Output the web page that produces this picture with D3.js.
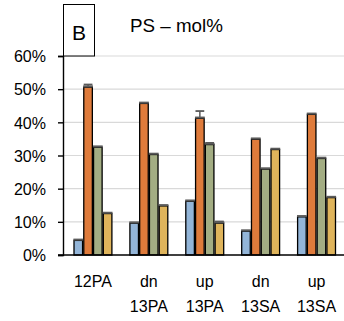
<!DOCTYPE html>
<html>
<head>
  <style>
    body { margin: 0; padding: 0; background: #fff; }
    text { font-family: "Liberation Sans", Arial, sans-serif; fill: #000; }
  </style>
</head>
<body>
  <div id="chart"></div>
  <script src="https://d3js.org/d3.v7.min.js"></script>
  <script>
    // categories (two-line labels)
    const categories = ['12PA', 'dn 13PA', 'up 13PA', 'dn 13SA', 'up 13SA'];
    const labelLines = [['12PA'], ['dn', '13PA'], ['up', '13PA'], ['dn', '13SA'], ['up', '13SA']];
    const series = ['s1', 's2', 's3', 's4'];
    const colors = ['#93b5d8', '#df7b3b', '#a3ad83', '#dfb45b'];

    // values per series, in order of categories (fractions)
    const s1 = [0.044, 0.096, 0.162, 0.072, 0.115];
    const s2 = [0.506, 0.457, 0.412, 0.349, 0.424];
    const s3 = [0.325, 0.303, 0.333, 0.259, 0.291];
    const s4 = [0.125, 0.148, 0.096, 0.318, 0.173];
    const e1 = [0.002, 0.002, 0.002, 0.002, 0];
    const e2 = [0.008, 0.002, 0.022, 0.002, 0];
    const e3 = [0.002, 0.002, 0.005, 0.002, 0];
    const e4 = [0.002, 0.002, 0.005, 0.002, 0];
    const values = [s1, s2, s3, s4];
    const errors = [e1, e2, e3, e4];
    const yTicks = [0, 0.1, 0.2, 0.3, 0.4, 0.5, 0.6];

    const W = 344, H = 321;
    const svg = d3.select('#chart').append('svg')
      .attr('width', W).attr('height', H);

    const y = d3.scaleLinear().domain([0, 0.6]).range([255, 56]);
    const x0 = d3.scaleBand().domain(categories).range([65, 344.5]);
    const bw = x0.bandwidth();
    const x1 = d3.scaleBand().domain(series).range([8.4, bw - 8.4]);

    // gridlines
    svg.append('g').selectAll('line')
      .data(yTicks.slice(1))
      .enter().append('line')
      .attr('x1', 63).attr('x2', W)
      .attr('y1', d => y(d)).attr('y2', d => y(d))
      .attr('stroke', '#d9d9d9').attr('stroke-width', 1.2);

    // bars
    const data = [];
    categories.forEach((c, i) => {
      series.forEach((s, j) => {
        data.push({ cat: c, s: s, j: j, v: values[j][i], e: errors[j][i] });
      });
    });

    const g = svg.append('g');
    const bx = d => x0(d.cat) + x1(d.s);
    const bwid = x1.bandwidth();

    // error bars (drawn behind)
    g.selectAll('.err').data(data.filter(d => d.e > 0.004))
      .enter().append('line')
      .attr('x1', d => bx(d) + bwid / 2).attr('x2', d => bx(d) + bwid / 2)
      .attr('y1', d => y(d.v)).attr('y2', d => y(d.v + d.e))
      .attr('stroke', '#595959').attr('stroke-width', 1.5);
    g.selectAll('.cap').data(data.filter(d => d.e > 0.004))
      .enter().append('line')
      .attr('x1', d => bx(d) + 0.5).attr('x2', d => bx(d) + bwid - 0.5)
      .attr('y1', d => y(d.v + d.e)).attr('y2', d => y(d.v + d.e))
      .attr('stroke', '#595959').attr('stroke-width', 1.8);

    g.selectAll('rect').data(data)
      .enter().append('rect')
      .attr('x', d => bx(d) + 0.6)
      .attr('y', d => y(d.v))
      .attr('width', bwid - 1.2)
      .attr('height', d => y(0) - y(d.v))
      .attr('fill', d => colors[d.j])
      .attr('stroke', '#000').attr('stroke-width', 1.3);

    // grey cap on top of each bar
    g.selectAll('.top').data(data)
      .enter().append('line')
      .attr('x1', d => bx(d)).attr('x2', d => bx(d) + bwid)
      .attr('y1', d => y(d.v) - 0.8).attr('y2', d => y(d.v) - 0.8)
      .attr('stroke', '#5a5a5a').attr('stroke-width', 2);

    // axes
    const axis = svg.append('g').attr('transform', 'translate(63,0)')
      .call(d3.axisLeft(y).tickValues(yTicks).tickFormat(d3.format('.0%')).tickSize(5));
    axis.select('.domain').attr('stroke', '#000').attr('stroke-width', 1.4);
    axis.selectAll('.tick line').attr('stroke', '#000').attr('stroke-width', 1.4);
    axis.selectAll('.tick text')
      .attr('x', -17).attr('dy', '0.36em')
      .style('font-size', '16px').style('font-family', '"Liberation Sans", Arial, sans-serif')
      .attr('fill', '#000');

    svg.append('line')
      .attr('x1', 58).attr('x2', W)
      .attr('y1', y(0)).attr('y2', y(0))
      .attr('stroke', '#000').attr('stroke-width', 1.6);

    // category labels
    const lab = svg.append('g').selectAll('text')
      .data(categories)
      .enter().append('text')
      .attr('text-anchor', 'middle')
      .style('font-size', '16px');
    lab.each(function (c, i) {
      const cx = x0(c) + bw / 2;
      labelLines[i].forEach((t, k) => {
        d3.select(this).append('tspan')
          .attr('x', cx).attr('y', 287 + k * 25).text(t);
      });
    });

    // panel letter box and title
    svg.append('rect')
      .attr('x', 63.5).attr('y', 4.5).attr('width', 31).attr('height', 51.5)
      .attr('fill', '#fff').attr('stroke', '#000').attr('stroke-width', 1);
    svg.append('text')
      .attr('x', 79).attr('y', 40).attr('text-anchor', 'middle')
      .style('font-size', '21px').text('B');
    svg.append('text')
      .attr('x', 130).attr('y', 32)
      .style('font-size', '18.8px').text('PS \u2013 mol%');
  </script>
</body>
</html>
